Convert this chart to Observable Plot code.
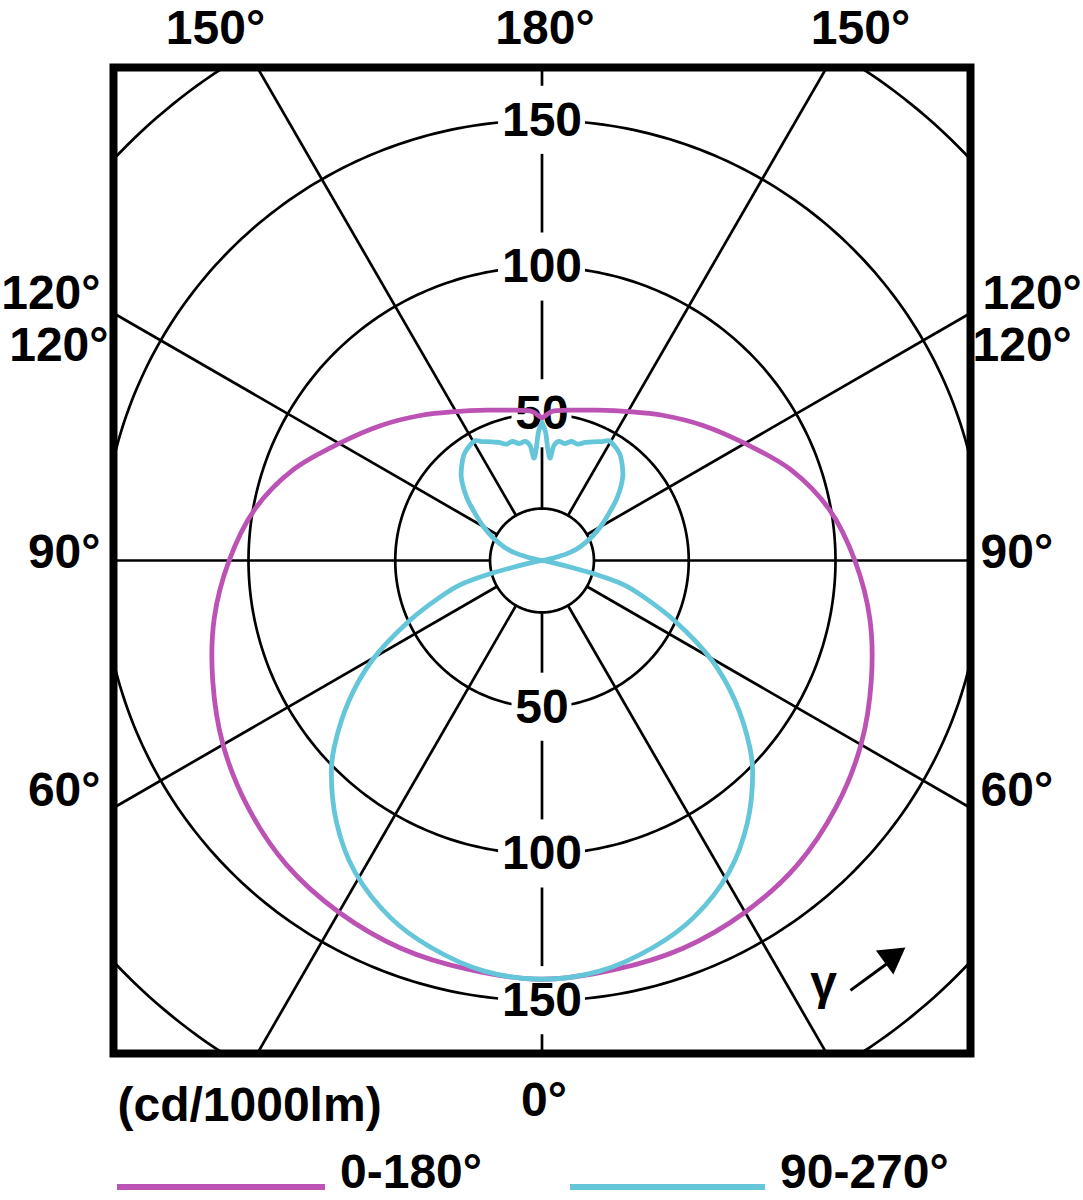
<!DOCTYPE html>
<html><head><meta charset="utf-8">
<script src="https://cdn.jsdelivr.net/npm/d3@7"></script>
<script src="https://cdn.jsdelivr.net/npm/@observablehq/plot@0.6"></script>
<style>
body{margin:0;background:#fff;}
#wrap{position:relative;width:1083px;height:1200px;font-family:"Liberation Sans",Arial,sans-serif;font-weight:bold;}
.sw{position:absolute;height:6px;top:1184px;}
.lt{position:absolute;top:1148px;font-size:48px;line-height:48px;color:#000;white-space:nowrap;}
</style></head>
<body><div id="wrap"><div id="chart"></div><div id="legend"></div></div>
<script>
// ---- data (cd/1000lm) ----
const seriesNames = ["0-180°", "90-270°"];
const seriesColors = ["#bb52b4", "#66c6d9"];
const gamma0180 = [0,10,20,30,40,50,60,70,80,90,100,110,120,130,140,150,160,170,176,178,180];
const value0180 = [142.7,141.6,140.6,138.4,135.4,130.8,125.5,119.4,113.4,106.6,99.5,90.3,79.8,71.6,64.5,58.6,54.5,52,51,49.8,48.5];
const gamma90270 = [0,8,16,23,31,38,45,48,54,59.5,65.6,70,73.3,75.6,76.8,78,80,90,100,103,106,110,115,120,126,130,136,140,144,148,151,153,155,158,160,163,166,169,172,174,175.5,177,178.5,180];
const value90270 = [142.7,141.3,137.2,132.2,123.8,113.6,101.5,95.3,81.3,67.3,49.5,37.5,29.7,18.2,10,4,1,0,1,5,10,14,18.5,23,28.8,33.5,39.6,42.5,45,46.3,46.7,45.5,44.7,43.5,42.8,41.5,41.8,40.6,41,39.5,35,38,44,47];
const gridRadii = [17.7, 50, 100, 150, 200];
const radialTickValues = [50, 100, 150];
const spokeAngles = [0,30,60,90,120,150,180,210,240,270,300,330];

const FONT = '"Liberation Sans",Arial,sans-serif';
const rad = d => d * Math.PI / 180;

function polarSeries(name, gammas, values) {
  const pts = [];
  for (let i = gammas.length - 1; i >= 0; i--)
    pts.push({series: name, x: -values[i] * Math.sin(rad(gammas[i])), y: -values[i] * Math.cos(rad(gammas[i]))});
  for (let i = 1; i < gammas.length; i++)
    pts.push({series: name, x: values[i] * Math.sin(rad(gammas[i])), y: -values[i] * Math.cos(rad(gammas[i]))});
  return pts;
}
const curves = [
  ...polarSeries(seriesNames[0], gamma0180, value0180),
  ...polarSeries(seriesNames[1], gamma90270, value90270)
];

const circlePts = gridRadii.flatMap(r => d3.range(0, 361, 1).map(a => ({r, x: r * Math.sin(rad(a)), y: r * Math.cos(rad(a))})));
const innerR = gridRadii[0];

const tickLabels = radialTickValues.flatMap(v => [{v, y: v, text: String(v)}, {v, y: -v, text: String(v)}]);

const lab = (t, anchor, dx, dy, ta = "middle") =>
  Plot.text([t], {frameAnchor: anchor, dx, dy, text: d => d, textAnchor: ta, lineAnchor: "middle", fontSize: 48, fill: "black"});

// gamma annotation (data units)
const gammaArrow = [{x1: 105.1, y1: -146.5, x2: 117.5, y2: -137.4}];
const gammaHead = [{x: 119.1, y: -135.3}];

const chart = Plot.plot({
  width: 1083, height: 1140,
  marginLeft: 113, marginRight: 113, marginTop: 67, marginBottom: 87,
  x: {domain: [-146, 146], axis: null},
  y: {domain: [-168, 168], axis: null},
  style: {fontFamily: FONT, fontWeight: "bold", background: "white"},
  marks: [
    Plot.line(circlePts, {x: "x", y: "y", z: "r", stroke: "black", strokeWidth: 2.7, clip: true}),
    Plot.link(spokeAngles, {
      x1: a => innerR * Math.sin(rad(a)), y1: a => innerR * Math.cos(rad(a)),
      x2: a => 400 * Math.sin(rad(a)), y2: a => 400 * Math.cos(rad(a)),
      stroke: "black", strokeWidth: 2.7, clip: true
    }),
    Plot.rect(tickLabels, {
      x1: d => -(d.text.length * 4.6 + 1), x2: d => d.text.length * 4.6 + 1,
      y1: d => d.y - 11.6, y2: d => d.y + 11.6, fill: "white"
    }),
    Plot.text(tickLabels, {x: () => 0, y: "y", text: "text", fontSize: 48, fill: "black"}),
    Plot.line(curves, {x: "x", y: "y", z: "series", stroke: d => d.series, strokeWidth: 4.8, curve: "catmull-rom"}),
    // gamma direction annotation
    lab("γ", "bottom-right", -147, -70),
    Plot.link(gammaArrow, {x1: "x1", y1: "y1", x2: "x2", y2: "y2", stroke: "black", strokeWidth: 3}),
    Plot.dot(gammaHead, {x: "x", y: "y", symbol: "triangle", r: 11, fill: "black", stroke: "none", rotate: 54}),
    Plot.frame({stroke: "black", strokeWidth: 8}),
    // angle labels
    lab("150°", "top-left", 102, -39),
    lab("180°", "top", 3, -39),
    lab("150°", "top-right", -110, -39),
    lab("120°", "left", -13, -267, "end"),
    lab("120°", "left", -5, -215, "end"),
    lab("90°", "left", -13, -8, "end"),
    lab("60°", "left", -13, 230, "end"),
    lab("120°", "right", 12, -267, "start"),
    lab("120°", "right", 2, -215, "start"),
    lab("90°", "right", 10, -8, "start"),
    lab("60°", "right", 10, 230, "start"),
    lab("0°", "bottom", 2, 47),
    lab("(cd/1000lm)", "bottom-left", 4, 52, "start")
  ],
  color: {domain: seriesNames, range: seriesColors}
});
document.getElementById("chart").appendChild(chart);

// legend
const legendPos = [{sw: 117, w: 208, t: 340}, {sw: 570, w: 195, t: 780}];
const leg = document.getElementById("legend");
seriesNames.forEach((n, i) => {
  const s = document.createElement("div");
  s.className = "sw"; s.style.left = legendPos[i].sw + "px"; s.style.width = legendPos[i].w + "px"; s.style.background = seriesColors[i];
  leg.appendChild(s);
  const t = document.createElement("div");
  t.className = "lt"; t.style.left = legendPos[i].t + "px"; t.textContent = n;
  leg.appendChild(t);
});
</script></body></html>
